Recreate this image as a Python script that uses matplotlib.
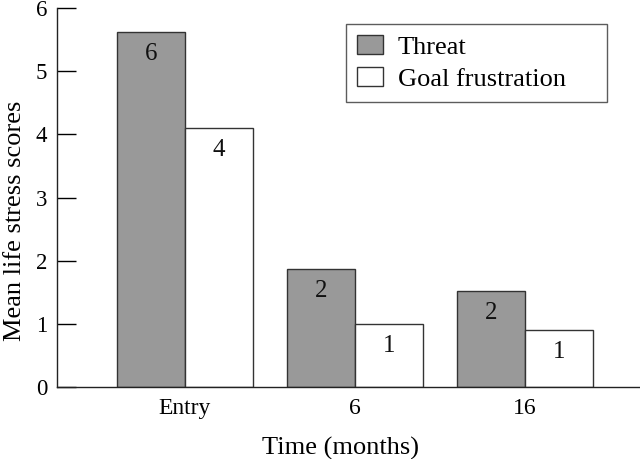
import matplotlib
matplotlib.use("Agg")
import matplotlib.pyplot as plt
import numpy as np

categories = ["Entry", "6", "16"]
threat = [5.62, 1.87, 1.52]
goal = [4.10, 1.00, 0.90]
threat_labels = ["6", "2", "2"]
goal_labels = ["4", "1", "1"]

plt.rcParams['font.family'] = ['Liberation Serif', 'DejaVu Serif']

fig = plt.figure(figsize=(6.4, 4.59), dpi=100)
ax = fig.add_axes([57/640, 1-387/459, 1-57/640, (387-8)/459])

x = np.arange(len(categories))
w = 0.4
b1 = ax.bar(x - w/2, threat, w, color='#999999', edgecolor='#333333', linewidth=1.0, label='Threat')
b2 = ax.bar(x + w/2, goal, w, color='white', edgecolor='#333333', linewidth=1.0, label='Goal frustration')

for bars, labs in ((b1, threat_labels), (b2, goal_labels)):
    for r, t in zip(bars, labs):
        ax.annotate(t, (r.get_x() + r.get_width()/2, r.get_height()),
                    xytext=(0, -22), textcoords='offset pixels',
                    ha='center', va='center', fontsize=18, color='#111111')

ax.set_xlim(-0.753, 2.676)
ax.set_ylim(0, 6)
ax.set_yticks(range(7))
ax.set_xticks(x)
ax.set_xticklabels(categories, fontsize=17)
ax.tick_params(axis='y', direction='in', length=14, width=1, labelsize=16.5, pad=7)
ax.tick_params(axis='x', length=0, pad=8)
for s in ('top', 'right'):
    ax.spines[s].set_visible(False)
for s in ('left', 'bottom'):
    ax.spines[s].set_linewidth(1.0)
    ax.spines[s].set_color('#222222')

ax.set_xlabel('Time (months)', fontsize=19, labelpad=14)
ax.xaxis.set_label_coords((340-57)/583, -(448-387)/379)
ax.xaxis.label.set_va('center')
ax.set_ylabel('Mean life stress scores', fontsize=19, labelpad=8)
ax.yaxis.set_label_coords(-(57-15)/583, (387-221)/379)
ax.yaxis.label.set_va('center')

x0 = (346-57)/583
x1 = (607-57)/583
ytop = 1-(24-8)/379
ybot = 1-(100-8)/379
leg = ax.legend(loc='upper left', bbox_to_anchor=(x0, ybot, x1-x0, ytop-ybot), mode='expand', fontsize=19,
                frameon=True, fancybox=False, edgecolor='#333333', handlelength=1.0, handleheight=0.72,
                handletextpad=0.55, borderpad=0.42, labelspacing=0.32, borderaxespad=0)
leg.get_frame().set_linewidth(1.0)

fig.savefig('out.png', dpi=100)
